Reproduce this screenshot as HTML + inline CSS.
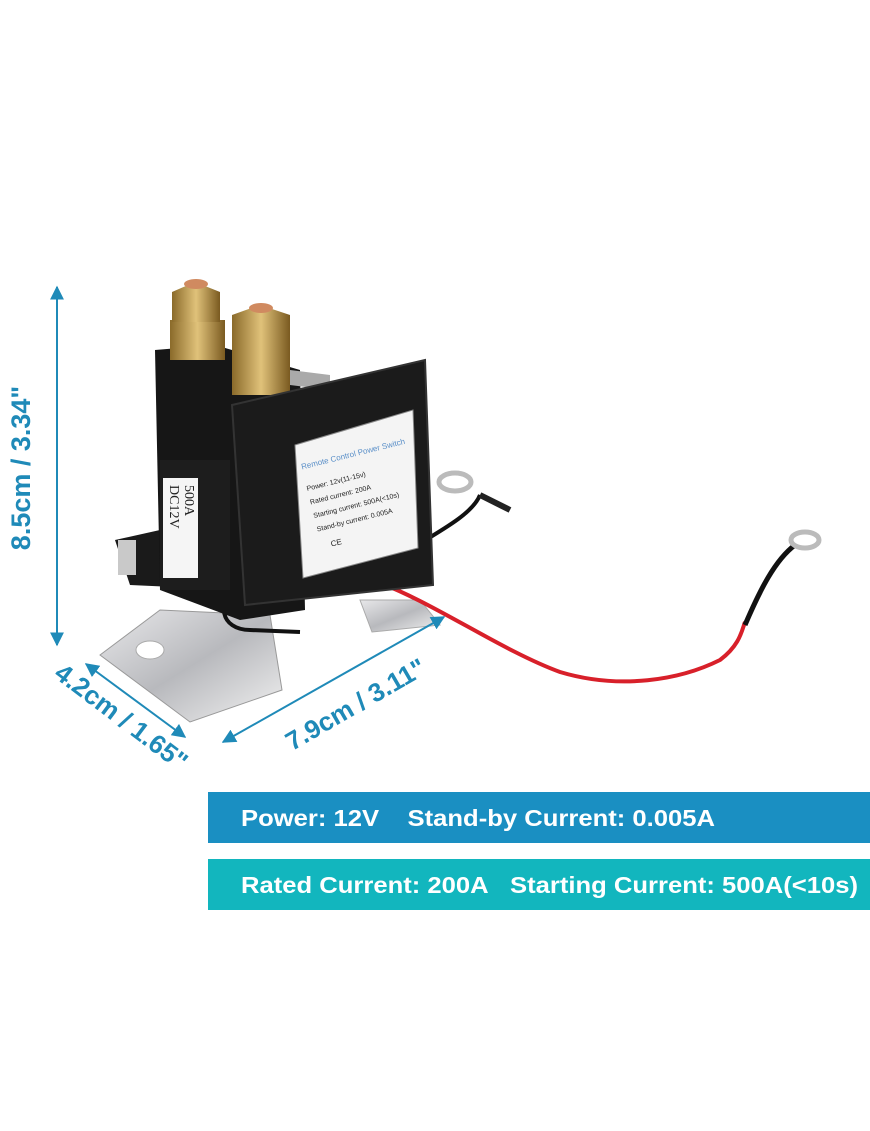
<!DOCTYPE html>
<html><head><meta charset="utf-8"><style>
html,body{margin:0;padding:0;background:#fff;}
svg{display:block;}
text{font-family:"Liberation Sans",sans-serif;font-weight:bold;white-space:pre;}
</style></head><body>
<svg width="870" height="1131" viewBox="0 0 870 1131" xmlns="http://www.w3.org/2000/svg" xml:space="preserve">
<defs>
<linearGradient id="metal" x1="0" y1="0" x2="1" y2="1">
<stop offset="0" stop-color="#e8e8ea"/><stop offset="0.5" stop-color="#b8b9bd"/><stop offset="1" stop-color="#f2f2f2"/></linearGradient>
<linearGradient id="gold" x1="0" y1="0" x2="1" y2="0">
<stop offset="0" stop-color="#8a6a2a"/><stop offset="0.5" stop-color="#e0c27a"/><stop offset="1" stop-color="#7a5a20"/></linearGradient>
<marker id="ah" viewBox="0 0 10 10" refX="9" refY="5" markerWidth="7" markerHeight="7" orient="auto-start-reverse"><path d="M0,0 L10,5 L0,10 z" fill="#1f8ab8"/></marker>
</defs>

<polygon points="100,655 160,610 270,615 282,690 190,722" fill="url(#metal)" stroke="#999" stroke-width="1"/>
<ellipse cx="150" cy="650" rx="14" ry="9" fill="#fff" stroke="#aaa"/>
<polygon points="360,600 420,600 440,625 372,632" fill="url(#metal)" stroke="#aaa"/>

<path d="M372,580 C430,600 500,650 560,672 C620,690 680,680 720,660 C740,645 742,630 745,622" fill="none" stroke="#d8202a" stroke-width="4"/>
<path d="M370,575 C420,540 470,520 480,495" fill="none" stroke="#111" stroke-width="4"/>
<path d="M480,495 L510,510" stroke="#222" stroke-width="6"/>
<ellipse cx="455" cy="482" rx="16" ry="9" fill="none" stroke="#bbb" stroke-width="5"/>
<path d="M745,625 C760,590 775,560 795,545" fill="none" stroke="#111" stroke-width="5"/>
<ellipse cx="805" cy="540" rx="14" ry="8" fill="none" stroke="#bbb" stroke-width="5"/>
<path d="M240,590 C215,600 220,630 250,630 L300,632" fill="none" stroke="#111" stroke-width="4"/>

<polygon points="115,540 160,530 240,540 240,590 130,585" fill="#1a1a1a"/>
<rect x="118" y="540" width="18" height="35" fill="#c9c9c9"/>
<polygon points="155,350 215,345 300,370 305,610 240,620 160,590" fill="#161616"/>
<rect x="160" y="460" width="70" height="130" fill="#1d1d1d"/>
<rect x="163" y="478" width="35" height="100" fill="#f5f5f5"/>
<text x="0" y="0" font-size="14" fill="#222" transform="translate(185,485) rotate(90)" style="font-family:'Liberation Serif',serif;font-weight:normal">500A</text>
<text x="0" y="0" font-size="14" fill="#222" transform="translate(170,485) rotate(90)" style="font-family:'Liberation Serif',serif;font-weight:normal">DC12V</text>
<rect x="170" y="320" width="55" height="40" fill="url(#gold)"/>
<polygon points="172,292 195,282 220,292 220,322 172,322" fill="url(#gold)"/>
<ellipse cx="196" cy="284" rx="12" ry="5" fill="#d08a60"/>
<rect x="232" y="345" width="58" height="50" fill="url(#gold)"/>
<polygon points="232,315 260,305 290,315 290,345 232,345" fill="url(#gold)"/>
<ellipse cx="261" cy="308" rx="12" ry="5" fill="#d08a60"/>
<polygon points="290,370 330,375 330,390 290,385" fill="#aaa"/>
<polygon points="232,405 425,360 433,585 245,605" fill="#1b1b1b" stroke="#333" stroke-width="2"/>
<polygon points="295,445 413,410 418,548 303,578" fill="#f4f4f4" stroke="#888"/>
<g transform="translate(300,470) rotate(-14)">
<text x="2" y="0" font-size="8" fill="#5a8fc8" style="font-weight:normal">Remote Control Power Switch</text>
<text x="2" y="22" font-size="7" fill="#222" style="font-weight:normal">Power: 12v(11-15v)</text>
<text x="2" y="36" font-size="7" fill="#222" style="font-weight:normal">Rated current: 200A</text>
<text x="2" y="50" font-size="7" fill="#222" style="font-weight:normal">Starting current: 500A(&lt;10s)</text>
<text x="2" y="64" font-size="7" fill="#222" style="font-weight:normal">Stand-by current: 0.005A</text>
<text x="12" y="82" font-size="8" fill="#222" style="font-weight:normal">CE</text>
</g>

<line x1="57" y1="287" x2="57" y2="645" stroke="#1f8ab8" stroke-width="2" marker-start="url(#ah)" marker-end="url(#ah)"/>
<text font-size="27" fill="#1f8ab8" text-anchor="middle" transform="translate(30,468) rotate(-90)">8.5cm / 3.34"</text>
<line x1="86" y1="664" x2="185" y2="737" stroke="#1f8ab8" stroke-width="2" marker-start="url(#ah)" marker-end="url(#ah)"/>
<text font-size="26" fill="#1f8ab8" text-anchor="middle" transform="translate(116,724) rotate(37)">4.2cm / 1.65"</text>
<line x1="223" y1="742" x2="444" y2="617" stroke="#1f8ab8" stroke-width="2" marker-start="url(#ah)" marker-end="url(#ah)"/>
<text font-size="26" fill="#1f8ab8" text-anchor="middle" transform="translate(360,712) rotate(-30)">7.9cm / 3.11"</text>

<rect x="208" y="792" width="662" height="51" fill="#1a8fc2"/>
<text x="241" y="826" font-size="23" fill="#fff" textLength="474" lengthAdjust="spacingAndGlyphs">Power: 12V&#160;&#160;&#160;&#160;Stand-by Current: 0.005A</text>
<rect x="208" y="859" width="662" height="51" fill="#12b6be"/>
<text x="241" y="893" font-size="23" fill="#fff" textLength="617" lengthAdjust="spacingAndGlyphs">Rated Current: 200A&#160;&#160;&#160;Starting Current: 500A(&lt;10s)</text>
</svg>
</body></html>
